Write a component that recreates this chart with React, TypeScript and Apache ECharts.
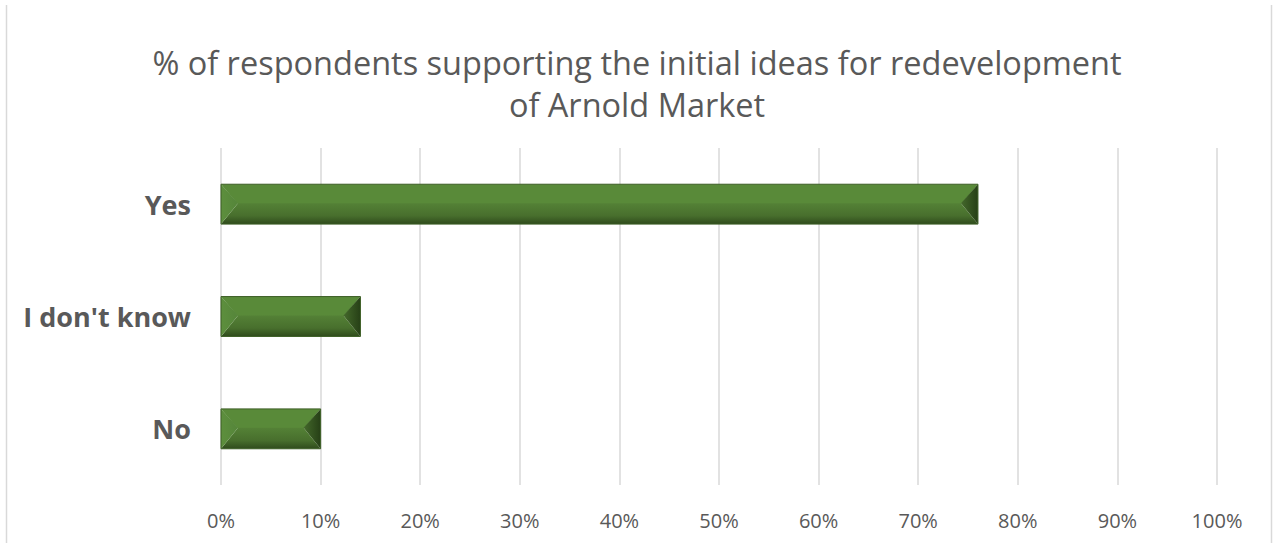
import React, { useEffect, useRef } from "react";
import * as echarts from "echarts";

const titleLines = [
  "% of respondents supporting the initial ideas for redevelopment",
  "of Arnold Market",
];
const categories = ["Yes", "I don't know", "No"];
const values = [76, 14, 10];
const xTicks = { min: 0, max: 100, interval: 10 };

export default function App() {
  const ref = useRef<HTMLDivElement>(null);
  useEffect(() => {
    if (!ref.current) return;
    const chart = echarts.init(ref.current, null, { renderer: "svg" });
    const font = "'Open Sans', 'Noto Sans', sans-serif";
    chart.setOption({
      animation: false,
      backgroundColor: "#ffffff",
      title: {
        text: titleLines.join("\n"),
        left: "center",
        top: 36,
        textStyle: {
          fontFamily: font,
          fontSize: 32.5,
          fontWeight: "normal",
          color: "#595959",
          lineHeight: 42,
        },
      },
      graphic: [
        { type: "line", shape: { x1: 6.5, y1: 5, x2: 6.5, y2: 543 }, style: { stroke: "#d9d9d9", lineWidth: 1.5 } },
        { type: "line", shape: { x1: 1271.5, y1: 5, x2: 1271.5, y2: 543 }, style: { stroke: "#d9d9d9", lineWidth: 1.5 } },
      ],
      grid: { left: 221, right: 57, top: 148, bottom: 58, containLabel: false },
      xAxis: {
        type: "value",
        min: xTicks.min,
        max: xTicks.max,
        interval: xTicks.interval,
        axisLine: { show: false },
        axisTick: { show: false },
        splitLine: { show: true, lineStyle: { color: "#d9d9d9", width: 1.5 } },
        axisLabel: {
          formatter: "{value}%",
          fontFamily: font,
          fontSize: 20,
          color: "#595959",
          margin: 25,
        },
      },
      yAxis: {
        type: "category",
        inverse: true,
        data: categories,
        axisLine: { show: false },
        axisTick: { show: false },
        axisLabel: {
          fontFamily: font,
          fontSize: 27,
          fontWeight: "bold",
          color: "#595959",
          margin: 30,
        },
      },
      series: [
        {
          type: "custom",
          data: values.map((v, i) => [v, i]),
          encode: { x: 0, y: 1 },
          renderItem: (params: any, api: any) => {
            const v = api.value(0);
            const idx = api.value(1);
            const p0 = api.coord([0, idx]);
            const p1 = api.coord([v, idx]);
            const band = api.size([0, 1])[1];
            const h = band * 0.355;
            const x0 = p0[0];
            const x1 = p1[0];
            const yc = p0[1] - 1;
            const y0 = p0[1] - h / 2;
            const y1 = p0[1] + h / 2;
            const b = Math.min(17, (x1 - x0) / 2);
            return {
              type: "group",
              children: [
                {
                  type: "polygon",
                  shape: { points: [[x0, y0], [x1, y0], [x1 - b, yc + 1], [x0 + b, yc + 1]] },
                  style: { fill: "#598a39" },
                },
                {
                  type: "polygon",
                  shape: { points: [[x0 + b, yc], [x1 - b, yc], [x1, y1], [x0, y1]] },
                  style: {
                    fill: {
                      type: "linear", x: 0, y: 0, x2: 0, y2: 1,
                      colorStops: [
                        { offset: 0, color: "#548136" },
                        { offset: 0.6, color: "#486f2d" },
                        { offset: 1, color: "#2f4b1c" },
                      ],
                    },
                  },
                },
                {
                  type: "polygon",
                  shape: { points: [[x0, y0], [x0 + b, yc], [x0, y1]] },
                  style: {
                    fill: {
                      type: "linear", x: 0, y: 0, x2: 1, y2: 0,
                      colorStops: [
                        { offset: 0, color: "#5d8f3d" },
                        { offset: 1, color: "#55853a" },
                      ],
                    },
                  },
                },
                {
                  type: "polygon",
                  shape: { points: [[x1, y0], [x1 - b, yc], [x1, y1]] },
                  style: {
                    fill: {
                      type: "linear", x: 0, y: 0, x2: 1, y2: 0,
                      colorStops: [
                        { offset: 0, color: "#44692b" },
                        { offset: 1, color: "#263f16" },
                      ],
                    },
                  },
                },
                {
                  type: "rect",
                  shape: { x: x0, y: y0, width: x1 - x0, height: y1 - y0 },
                  style: { fill: "none", stroke: "#3d5f26", lineWidth: 1 },
                },
              ],
            };
          },
        },
      ],
    });
    return () => chart.dispose();
  }, []);
  return (
    <div
      ref={ref}
      style={{ position: "fixed", left: 0, top: 0, width: 1274, height: 543 }}
    />
  );
}
